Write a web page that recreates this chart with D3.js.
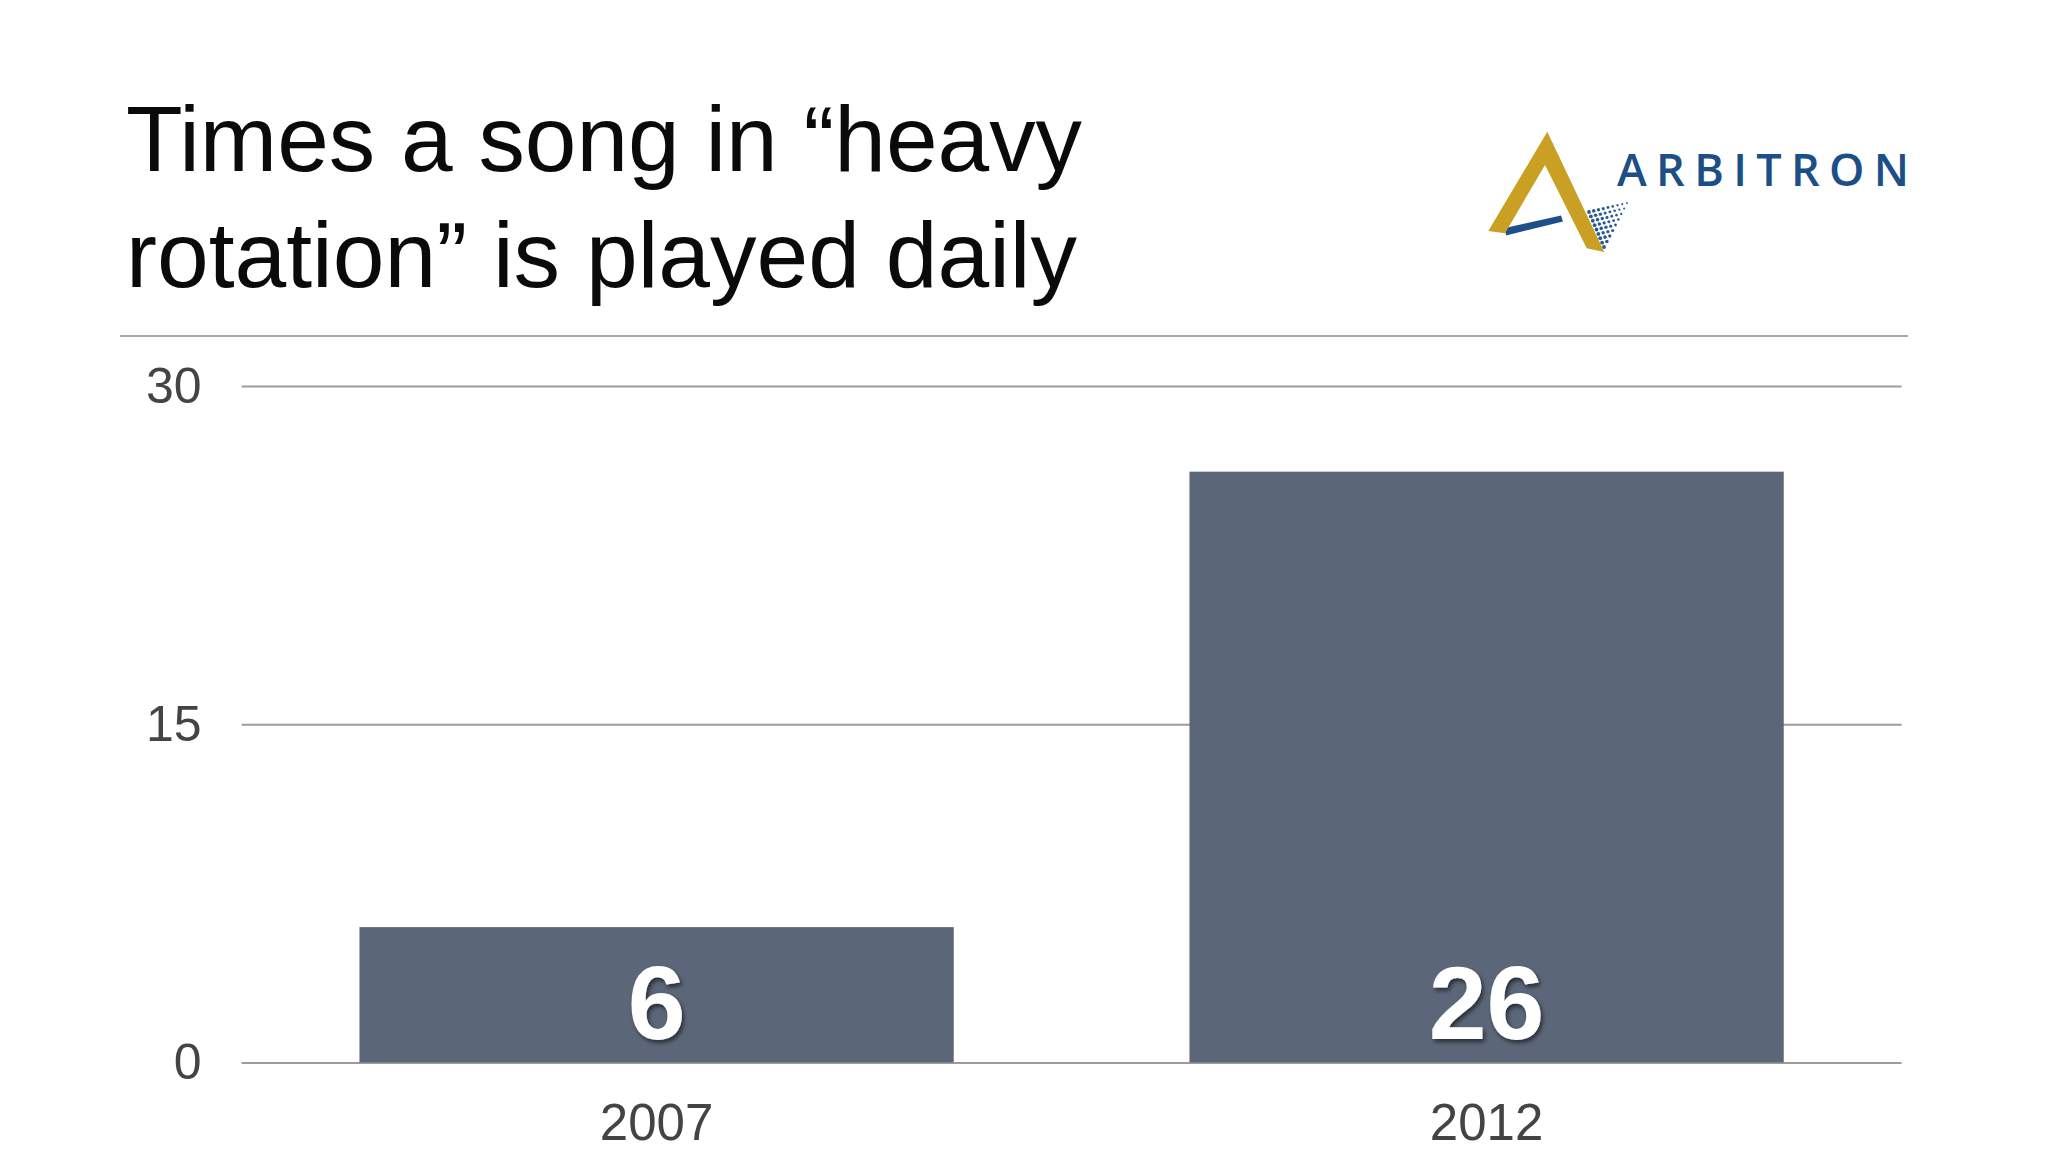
<!DOCTYPE html>
<html>
<head>
<meta charset="utf-8">
<script src="https://cdn.jsdelivr.net/npm/d3@7/dist/d3.min.js"></script>
<style>
  html, body { margin: 0; padding: 0; background: #ffffff; }
  svg { display: block; }
</style>
</head>
<body>
<script>
// ---- Data ----
const categories = ["2007", "2012"];
const values = [6, 26.2];          // bar heights
const valueLabels = ["6", "26"];   // labels printed on the bars
const yTicks = [0, 15, 30];
const titleLines = ["Times a song in \u201Cheavy", "rotation\u201D is played daily"];
const logoText = "ARBITRON";

// ---- Layout ----
const W = 2048, H = 1152;
const plot = { left: 241.6, right: 1901.6, top: 386, bottom: 1062.4 };

const svg = d3.select("body").append("svg")
  .attr("width", W).attr("height", H)
  .attr("viewBox", `0 0 ${W} ${H}`);

const defs = svg.append("defs");
const f = defs.append("filter").attr("id", "shadow")
  .attr("x", "-30%").attr("y", "-30%").attr("width", "160%").attr("height", "160%");
f.append("feDropShadow").attr("dx", 2).attr("dy", 3).attr("stdDeviation", 2.2)
  .attr("flood-color", "#000").attr("flood-opacity", 0.55);

// ---- Title ----
const titleFont = "'Liberation Sans', Arial, Helvetica, sans-serif";
const titleWidths = [956, 951];
const titleBaselines = [171, 287];
svg.append("g").selectAll("text").data(titleLines).join("text")
  .attr("x", 126)
  .attr("y", (d, i) => titleBaselines[i])
  .attr("font-family", titleFont)
  .attr("font-size", 93)
  .attr("fill", "#0a0a0a")
  .attr("textLength", (d, i) => titleWidths[i])
  .attr("lengthAdjust", "spacingAndGlyphs")
  .text(d => d);

// ---- Separator line ----
svg.append("line")
  .attr("x1", 120).attr("x2", 1908)
  .attr("y1", 336).attr("y2", 336)
  .attr("stroke", "#a8a8a8").attr("stroke-width", 2);

// ---- Logo ----
const logo = svg.append("g").attr("class", "logo");
// blue bar
logo.append("polygon")
  .attr("points", "1505,228 1561,215.5 1563,221.5 1506,235.5")
  .attr("fill", "#1f4f8b");
// dots fan
const A = [1589, 212], B = [1627, 203], C = [1604, 247];
for (let i = 0; i <= 8; i++) {
  for (let j = 0; j <= 8 - i; j++) {
    const u = i / 8, v = j / 8;
    const px = A[0] + (B[0] - A[0]) * u + (C[0] - A[0]) * v;
    const py = A[1] + (B[1] - A[1]) * u + (C[1] - A[1]) * v;
    const r = 1.9 - 1.0 * u;
    logo.append("circle").attr("cx", px).attr("cy", py).attr("r", r).attr("fill", "#2a5a95");
  }
}
// gold A
logo.append("polygon")
  .attr("points", "1547.3,131.7 1604.3,252 1586.7,248.3 1545,165 1505,233.3 1488.3,231")
  .attr("fill", "#c9a023");
logo.append("text")
  .attr("x", 1617).attr("y", 186)
  .attr("font-family", "'Open Sans', 'Noto Sans', sans-serif")
  .attr("font-weight", 600)
  .attr("font-size", 45)
  .attr("fill", "#1c4f87")
  .attr("textLength", 292)
  .attr("lengthAdjust", "spacing")
  .text(logoText);

// ---- Scales ----
const x = d3.scaleBand().domain(categories)
  .range([plot.left, plot.right])
  .paddingInner(0.284).paddingOuter(0.142);
const y = d3.scaleLinear().domain([0, 30]).range([plot.bottom, plot.top]);

const axisFont = "'Liberation Sans', Arial, Helvetica, sans-serif";

// ---- Y axis / gridlines ----
const yAxis = svg.append("g")
  .attr("transform", `translate(${plot.left},0)`)
  .call(d3.axisLeft(y).tickValues(yTicks)
    .tickSize(-(plot.right - plot.left)).tickPadding(40).tickFormat(d3.format("d")));
yAxis.select(".domain").remove();
yAxis.selectAll(".tick line").attr("stroke", "#9c9c9c").attr("stroke-width", 2);
yAxis.selectAll(".tick text")
  .attr("font-family", axisFont).attr("font-size", 50).attr("fill", "#444");

// ---- Bars ----
svg.append("g").selectAll("rect").data(values).join("rect")
  .attr("x", (d, i) => x(categories[i]))
  .attr("width", x.bandwidth())
  .attr("y", d => y(d))
  .attr("height", d => y(0) - y(d))
  .attr("fill", "#5b6678");

// ---- Bar value labels ----
svg.append("g").selectAll("text").data(valueLabels).join("text")
  .attr("x", (d, i) => x(categories[i]) + x.bandwidth() / 2)
  .attr("y", y(0) - 23)
  .attr("text-anchor", "middle")
  .attr("font-family", axisFont)
  .attr("font-weight", "bold")
  .attr("font-size", 104)
  .attr("fill", "#ffffff")
  .attr("filter", "url(#shadow)")
  .text(d => d);

// ---- X axis ----
const xAxis = svg.append("g")
  .attr("transform", `translate(0,${plot.bottom})`)
  .call(d3.axisBottom(x).tickSize(0).tickPadding(41));
xAxis.select(".domain").remove();
xAxis.selectAll(".tick text")
  .attr("font-family", axisFont).attr("font-size", 51).attr("fill", "#444");
</script>
</body>
</html>
